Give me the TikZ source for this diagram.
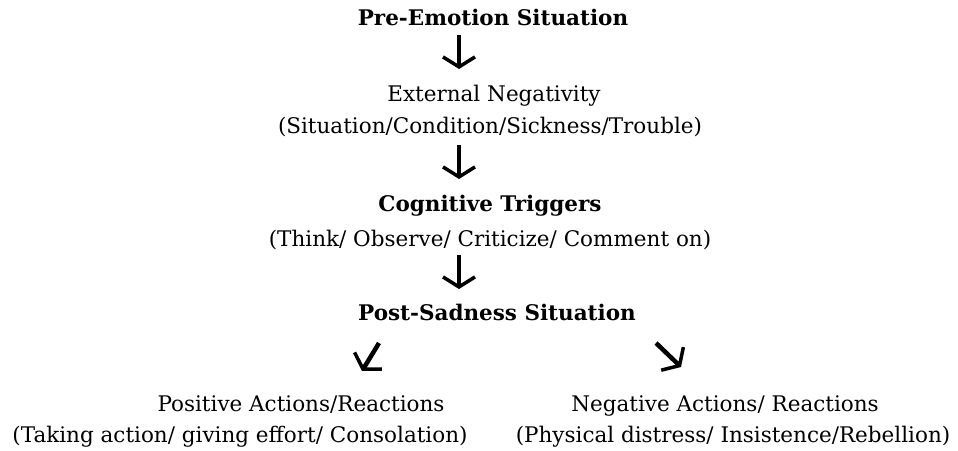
\documentclass[tikz,border=0pt]{standalone}
\usepackage{fontspec}
\setmainfont{DejaVu Serif}
\usetikzlibrary{arrows.meta}
\begin{document}
\begin{tikzpicture}[x=1pt,y=-1pt,
  lbl/.style={inner sep=0pt,anchor=base,font=\fontsize{21.5}{24}\selectfont},
  hd/.style={inner sep=0pt,anchor=base,font=\fontsize{21.5}{24}\selectfont\bfseries},
  flow/.style={line width=4.5pt,-{Straight Barb[length=10pt,width=32pt,line width=3.5pt]}}]
\useasboundingbox (0,0) rectangle (958,450);
\node[hd] (pre) at (493,25) {Pre-Emotion Situation};
\node[lbl] (ext) at (494,101) {External Negativity};
\node[lbl] (exts) at (490,133) {(Situation/Condition/Sickness/Trouble)};
\node[hd] (cog) at (490,211) {Cognitive Triggers};
\node[lbl] (cogs) at (490,246) {(Think/ Observe/ Criticize/ Comment on)};
\node[hd] (post) at (497,320) {Post-Sadness Situation};
\node[lbl] (pos) at (301,411) {Positive Actions/Reactions};
\node[lbl] (poss) at (240,442) {(Taking action/ giving effort/ Consolation)};
\node[lbl] (neg) at (725,411) {Negative Actions/ Reactions};
\node[lbl] (negs) at (733,442) {(Physical distress/ Insistence/Rebellion)};
\coordinate (a1s) at (459,35); \coordinate (a1e) at (459,69);
\coordinate (a2s) at (459,145); \coordinate (a2e) at (459,179);
\coordinate (a3s) at (459,255); \coordinate (a3e) at (459,289);
\coordinate (a4s) at (379,343); \coordinate (a4e) at (362,371);
\coordinate (a5s) at (656,343); \coordinate (a5e) at (681,367);
\draw[flow] (a1s) -- (a1e);
\draw[flow] (a2s) -- (a2e);
\draw[flow] (a3s) -- (a3e);
\draw[flow] (a4s) -- (a4e);
\draw[flow] (a5s) -- (a5e);
\end{tikzpicture}
\end{document}
